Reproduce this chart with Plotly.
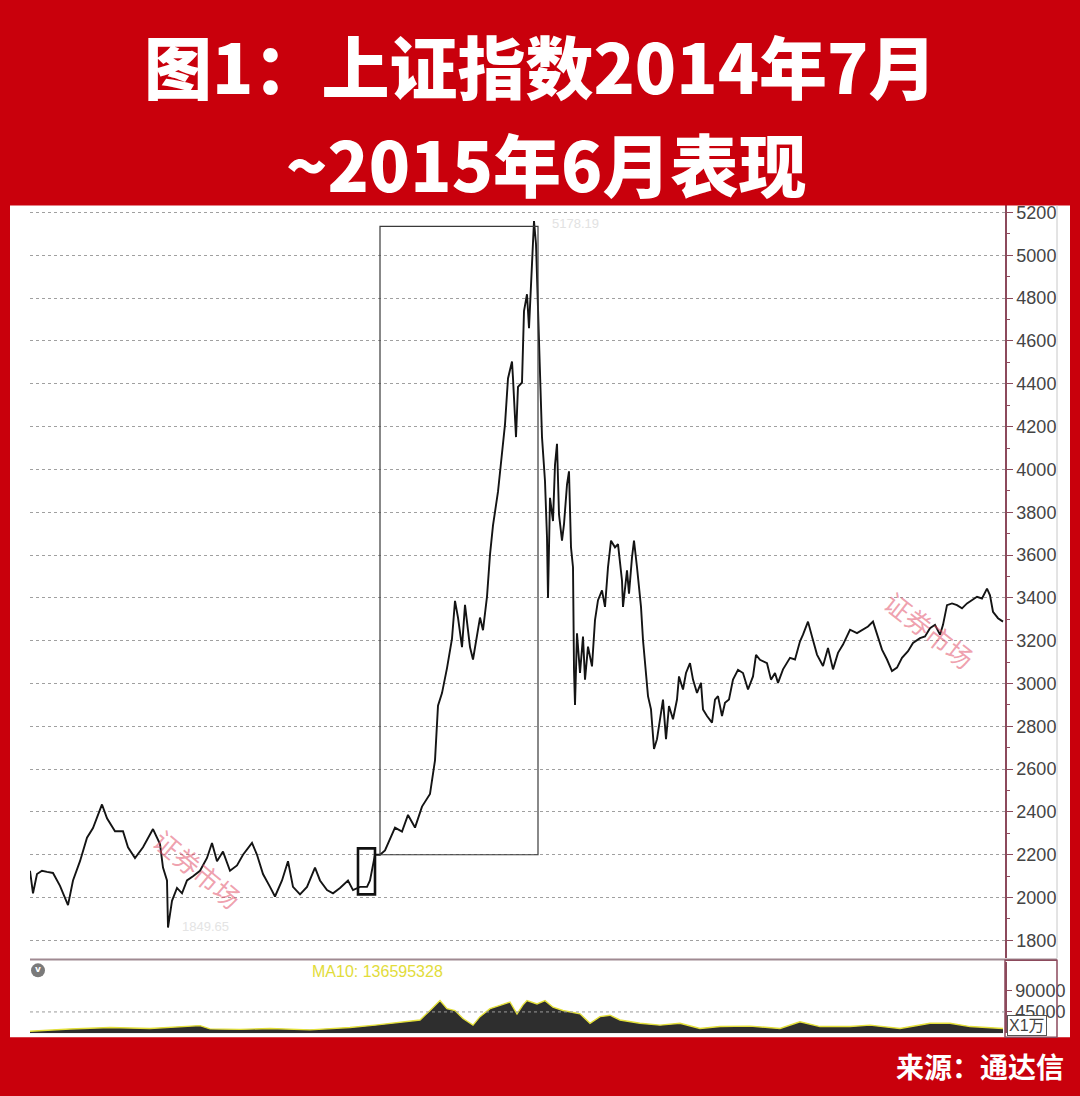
import plotly.graph_objects as go

# ---------------- data ----------------
# trading-day index (relative) and close of the Shanghai Composite
day = [
    0, 3, 7, 12, 17, 23, 30, 38, 43, 50,
    57, 63, 72, 77, 85, 93, 98, 105, 113, 123,
    130, 133, 137, 138, 142, 147, 152, 157, 163, 170,
    177, 182, 187, 193, 200, 207, 213, 222, 227, 233,
    240, 245, 252, 258, 263, 270, 277, 285, 290, 297,
    303, 310, 318, 323, 330, 337, 340, 345, 350, 355,
    365, 372, 378, 385, 392, 400, 405, 408, 412, 417,
    422, 425, 428, 432, 435, 440, 443, 447, 450, 453,
    457, 460, 463, 468, 472, 475, 478, 482, 483, 486,
    488, 492, 494, 497, 499, 502, 504, 506, 508, 510,
    512, 515, 517, 518, 520, 523, 525, 527, 529, 532,
    534, 537, 539, 541, 543, 544, 545, 547, 550, 553,
    555, 558, 562, 565, 568, 572, 575, 578, 581, 585,
    588, 592, 593, 597, 599, 602, 604, 607, 611, 613,
    616, 618, 621, 624, 627, 629, 633, 636, 639, 643,
    647, 649, 653, 656, 660, 663, 667, 671, 673, 677,
    682, 685, 688, 692, 695, 699, 703, 708, 713, 718,
    723, 726, 730, 737, 741, 745, 748, 753, 760, 765,
    770, 773, 778, 782, 787, 793, 798, 803, 808, 813,
    820, 827, 833, 838, 843, 847, 852, 857, 862, 867,
    872, 878, 883, 890, 895, 900, 905, 910, 913, 917,
    922, 927, 932, 937, 942, 947, 952, 957, 960, 963,
    968, 973]

close = [
    2125, 2020, 2110, 2125, 2120, 2115, 2055, 1965, 2080, 2170,
    2280, 2325, 2435, 2370, 2310, 2310, 2235, 2185, 2235, 2320,
    2250, 2140, 2080, 1860, 1985, 2045, 2020, 2080, 2100, 2125,
    2185, 2255, 2170, 2215, 2125, 2150, 2200, 2255, 2200, 2110,
    2050, 2005, 2080, 2170, 2050, 2015, 2050, 2140, 2080, 2035,
    2020, 2045, 2080, 2035, 2050, 2050, 2080, 2200, 2200, 2220,
    2327, 2308, 2386, 2327, 2425, 2484, 2641, 2896, 2955, 3072,
    3210, 3386, 3308, 3170, 3367, 3170, 3112, 3229, 3308, 3249,
    3406, 3602, 3739, 3896, 4072, 4210, 4425, 4504, 4425, 4151,
    4386, 4406, 4739, 4818, 4660, 4935, 5160, 5053, 4720, 4465,
    4151, 3945, 3682, 3400, 3867, 3759, 4022, 4120, 3790, 3667,
    3744, 3929, 3991, 3636, 3543, 3064, 2900, 3234, 3049, 3219,
    3018, 3172, 3080, 3296, 3389, 3435, 3358, 3543, 3667, 3636,
    3651, 3481, 3358, 3528, 3420, 3589, 3667, 3543, 3358, 3203,
    3018, 2941, 2879, 2694, 2740, 2802, 2925, 2740, 2895, 2833,
    2925, 3033, 2972, 3049, 3095, 3018, 2956, 3003, 2879, 2848,
    2817, 2925, 2941, 2848, 2910, 2925, 3018, 3064, 3049, 2972,
    3033, 3134, 3111, 3095, 3018, 3049, 3003, 3066, 3120, 3112,
    3197, 3228, 3289, 3220, 3135, 3082, 3166, 3066, 3143, 3182,
    3251, 3235, 3251, 3266, 3289, 3228, 3158, 3112, 3058, 3074,
    3120, 3151, 3189, 3212, 3220, 3258, 3274, 3228, 3274, 3366,
    3374, 3366, 3351, 3374, 3389, 3405, 3397, 3443, 3412, 3335,
    3305, 3289]

# volume (x1万)
vol_day = [0, 40, 80, 120, 170, 180, 210, 240, 280, 320,
           345, 360, 390, 400, 410, 417, 425, 433, 443, 450,
           460, 470, 480, 487, 493, 497, 507, 515, 523, 533,
           540, 550, 560, 570, 580, 590, 610, 630, 650, 670,
           690, 720, 750, 770, 790, 820, 840, 870, 900, 920,
           940, 973]
volume = [4000, 9000, 12000, 10000, 16000, 9000, 8000, 10000, 7000, 12000,
          17000, 21000, 28000, 48000, 69000, 52000, 48000, 31000, 17000, 35000,
          52000, 59000, 66000, 41000, 60000, 69000, 62000, 69000, 55000, 48000,
          45000, 41000, 21000, 35000, 38000, 28000, 21000, 17000, 21000, 10000,
          14000, 15000, 10000, 24000, 14000, 14000, 17000, 10000, 21000, 21000,
          14000, 10000]

price_ticks = list(range(1800, 5201, 200))
vol_ticks = [45000, 90000]
vol_ticktext = ["45000", "90000"]

# highlighted ranges (day index / index level)
big_box = dict(d0=350, d1=508, lo=2200, hi=5135)
small_box = dict(d0=328, d1=345, lo=2015, hi=2230)

title1 = "图1：上证指数2014年7月"
title2 = "~2015年6月表现"
source = "来源：通达信"
ma_label = "MA10: 136595328"

# ---------------- styling / layout ----------------
W, H = 1080, 1096
RED = "#c9000c"
AXC = "#8c4a5c"
NARROW = "Liberation Sans Narrow, Arial Narrow, Liberation Sans, sans-serif"
CJK = "Noto Sans CJK SC"


def px(x):
    return x / W


def py(y):
    return 1 - y / H


def note(text, x, y, size, color, family=CJK, weight=None, xanchor="center", **kw):
    f = dict(family=family, size=size, color=color)
    if weight:
        f["weight"] = weight
    return dict(text=text, x=px(x), y=py(y), xref="paper", yref="paper", showarrow=False,
                xanchor=xanchor, yanchor="middle", font=f, **kw)


fig = go.Figure()
fig.add_trace(go.Scatter(x=day, y=close, mode="lines",
                         line=dict(color="#141414", width=1.9),
                         xaxis="x", yaxis="y", hoverinfo="skip", showlegend=False))
fig.add_trace(go.Scatter(x=vol_day, y=volume, mode="lines", fill="tozeroy",
                         fillcolor="#2e2e2e", line=dict(color="#e4e03a", width=1.4),
                         xaxis="x2", yaxis="y2", hoverinfo="skip", showlegend=False))

shapes = [
    dict(type="rect", xref="paper", yref="paper", x0=px(10), x1=px(1070),
         y0=py(1037), y1=py(202), fillcolor="white", line=dict(width=0), layer="below"),
    dict(type="rect", xref="paper", yref="paper", x0=0, x1=1, y0=py(203), y1=1,
         fillcolor=RED, line=dict(width=0), layer="above"),
    dict(type="line", xref="paper", yref="paper", x0=px(30), x1=px(1057),
         y0=py(959), y1=py(959), line=dict(color="#a08a92", width=2)),
    dict(type="line", xref="paper", yref="paper", x0=px(1057), x1=px(1057),
         y0=py(958), y1=py(203), line=dict(color="#c8c8c8", width=1)),
    dict(type="rect", xref="paper", yref="paper", x0=px(1005), x1=px(1057),
         y0=py(1037), y1=py(960), line=dict(color=AXC, width=1.5)),
    dict(type="line", xref="x2 domain", yref="y2", x0=0, x1=1,
         y0=vol_ticks[0], y1=vol_ticks[0], line=dict(color="#9a9a9a", width=1, dash="dot")),
    dict(type="rect", xref="x", yref="y", x0=big_box["d0"], x1=big_box["d1"],
         y0=big_box["lo"], y1=big_box["hi"], line=dict(color="#3a3a3a", width=1.2)),
    dict(type="rect", xref="x", yref="y", x0=small_box["d0"], x1=small_box["d1"],
         y0=small_box["lo"], y1=small_box["hi"], line=dict(color="#111111", width=2.6)),
    dict(type="circle", xref="paper", yref="paper", x0=px(31), x1=px(45),
         y0=py(977), y1=py(963), fillcolor="#7a7a7a", line=dict(width=0)),
]

annotations = [
    note(title1, 540, 62, 68, "white", weight=900),
    note(title2, 546, 160, 68, "white", weight=900),
    note(source, 1066, 1066, 28, "white", weight=700, xanchor="right"),
    note(ma_label, 310, 971, 16, "#e2dc3a", family=NARROW, xanchor="left"),
    note("v", 38, 969, 9, "white", family="DejaVu Sans", weight=700),
    note("X1万", 1027, 1025, 16, "#444444", family=NARROW + ", " + CJK,
         bgcolor="white", bordercolor="#555555", borderwidth=1, borderpad=1),
    note("证券市场", 198, 868, 26, "rgba(225,80,105,0.55)", textangle=40),
    note("证券市场", 930, 628, 26, "rgba(225,80,105,0.55)", textangle=38),
    note("5178.19", 575, 221, 13, "#e2e2e2", family=NARROW),
    note("1849.65", 205, 926, 13, "#e4e4e4", family=NARROW),
]

fig.update_layout(
    width=W, height=H,
    margin=dict(l=0, r=0, t=0, b=0),
    paper_bgcolor=RED, plot_bgcolor="rgba(0,0,0,0)",
    showlegend=False,
    xaxis=dict(domain=[px(30), px(1005)], range=[0, 975], visible=False, fixedrange=True),
    xaxis2=dict(domain=[px(30), px(1005)], range=[0, 975], visible=False, anchor="y2",
                matches="x"),
    yaxis=dict(domain=[py(958), py(203)], range=[1716, 5233], side="right", anchor="x",
               tickvals=price_ticks, ticks="outside", ticklen=6, tickwidth=1, tickcolor=AXC,
               showline=True, linecolor=AXC, linewidth=1.5, zeroline=False,
               showgrid=True, gridcolor="#a0a0a0", griddash="dot", gridwidth=1,
               tickfont=dict(family=NARROW, size=18, color="#444444"),
               minor=dict(dtick=100, tick0=0, ticks="outside", ticklen=3, tickcolor=AXC,
                          showgrid=False)),
    yaxis2=dict(domain=[py(1033), py(962)], range=[0, 150000], side="right", anchor="x2",
                tickvals=vol_ticks, ticktext=vol_ticktext, ticks="outside", ticklen=5,
                tickcolor=AXC, showline=True, linecolor=AXC, linewidth=1.5,
                showgrid=False, zeroline=False,
                tickfont=dict(family=NARROW, size=18, color="#444444")),
    shapes=shapes,
    annotations=annotations,
)

fig.write_html("out.html", config={"displayModeBar": False},
               post_script="document.body.style.margin='0';")
